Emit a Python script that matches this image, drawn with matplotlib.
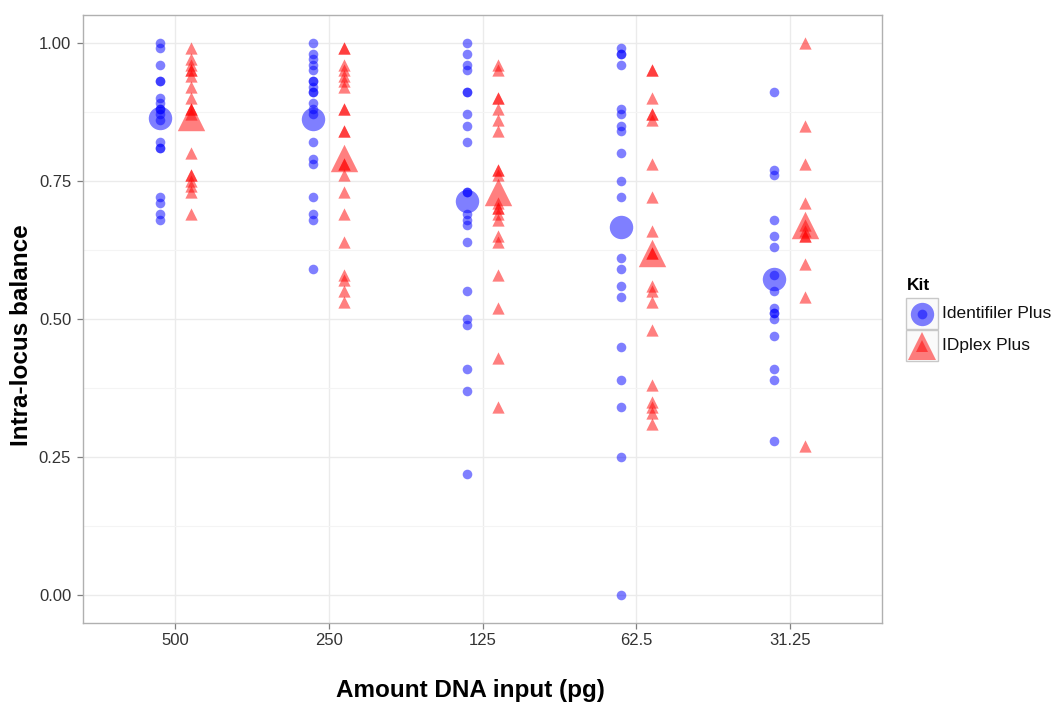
import matplotlib.pyplot as plt
from matplotlib.lines import Line2D
from matplotlib.patches import Rectangle
from matplotlib.ticker import MultipleLocator

plt.rcParams['font.family'] = ['Liberation Sans', 'DejaVu Sans']

# Amount of DNA input (pg), one group of points per category
categories = ['500', '250', '125', '62.5', '31.25']

# Identifiler Plus, intra-locus balance per locus
identifiler = [
    [1.00, 0.99, 0.96, 0.93, 0.93, 0.90, 0.89, 0.88, 0.88, 0.87, 0.86,
     0.82, 0.81, 0.81, 0.72, 0.71, 0.69, 0.68],
    [1.00, 0.98, 0.97, 0.96, 0.95, 0.93, 0.93, 0.92, 0.91, 0.91, 0.89,
     0.88, 0.87, 0.82, 0.79, 0.78, 0.72, 0.69, 0.68, 0.59],
    [1.00, 0.98, 0.96, 0.95, 0.91, 0.91, 0.87, 0.85, 0.82, 0.73, 0.73,
     0.69, 0.68, 0.67, 0.64, 0.55, 0.50, 0.49, 0.41, 0.37, 0.22],
    [0.99, 0.98, 0.98, 0.96, 0.88, 0.87, 0.85, 0.84, 0.80, 0.75, 0.72,
     0.61, 0.59, 0.56, 0.54, 0.45, 0.39, 0.34, 0.25, 0.00],
    [0.91, 0.77, 0.76, 0.68, 0.65, 0.63, 0.58, 0.55, 0.52, 0.51, 0.51,
     0.50, 0.47, 0.41, 0.39, 0.28],
]

# IDplex Plus, intra-locus balance per locus
idplex = [
    [0.99, 0.97, 0.96, 0.95, 0.95, 0.94, 0.92, 0.90, 0.88, 0.88, 0.87,
     0.80, 0.76, 0.76, 0.75, 0.74, 0.73, 0.69],
    [0.99, 0.99, 0.96, 0.95, 0.94, 0.93, 0.92, 0.88, 0.88, 0.84, 0.84,
     0.78, 0.78, 0.76, 0.73, 0.69, 0.64, 0.58, 0.57, 0.55, 0.53],
    [0.96, 0.95, 0.90, 0.90, 0.88, 0.86, 0.84, 0.77, 0.77, 0.76, 0.71,
     0.70, 0.70, 0.69, 0.68, 0.65, 0.64, 0.58, 0.52, 0.43, 0.34],
    [0.95, 0.95, 0.90, 0.87, 0.87, 0.86, 0.78, 0.72, 0.66, 0.62, 0.62,
     0.56, 0.55, 0.53, 0.48, 0.38, 0.35, 0.34, 0.33, 0.31],
    [1.00, 0.85, 0.78, 0.71, 0.67, 0.66, 0.65, 0.65, 0.60, 0.54, 0.27],
]

# group means (large markers)
identifiler_mean = [0.863, 0.861, 0.713, 0.667, 0.573]
idplex_mean = [0.866, 0.792, 0.730, 0.620, 0.670]

kits = ['Identifiler Plus', 'IDplex Plus']
colors = ['#0000ff', '#ff0000']
markers = ['o', '^']
offsets = [-0.1, 0.1]

fig = plt.figure(figsize=(10.56, 7.03), dpi=100)
ax = fig.add_axes([83 / 1056, 80 / 703, 799 / 1056, 608 / 703])

series = [(identifiler, identifiler_mean), (idplex, idplex_mean)]
small_size = [48, 78]
big_size = [285, 390]

for k, (vals, means) in enumerate(series):
    for i, group in enumerate(vals):
        ax.scatter([i + offsets[k]] * len(group), group, s=small_size[k],
                   marker=markers[k], color=colors[k], alpha=0.5,
                   linewidths=0, zorder=3)
    ax.scatter([i + offsets[k] for i in range(len(means))], means,
               s=big_size[k], marker=markers[k], color=colors[k],
               alpha=0.5, linewidths=0, zorder=4)

ax.set_xlim(-0.6, len(categories) - 0.4)
ax.set_ylim(-0.05, 1.05)
ax.set_xticks(range(len(categories)))
ax.set_xticklabels(categories)
ax.yaxis.set_major_locator(MultipleLocator(0.25))
ax.yaxis.set_minor_locator(MultipleLocator(0.125))
ax.set_yticks([0, 0.25, 0.5, 0.75, 1.0])
ax.set_yticklabels(['0.00', '0.25', '0.50', '0.75', '1.00'])

ax.grid(which='major', color='#ebebeb', linewidth=1.0, zorder=0)
ax.grid(which='minor', axis='y', color='#f4f4f4', linewidth=0.8, zorder=0)
ax.set_axisbelow(True)
ax.tick_params(which='major', length=4.5, width=0.9, color='#7f7f7f',
               labelsize=12, labelcolor='#333333', pad=4)
ax.tick_params(axis='x', which='major', pad=2.5)
ax.tick_params(which='minor', length=0)
for sp in ax.spines.values():
    sp.set_color('#b0b0b0')
    sp.set_linewidth(1.0)

fig.text(470 / 1056, 1 - 690 / 703, 'Amount DNA input (pg)', ha='center',
         va='center', fontsize=17.5, fontweight='bold')
fig.text(22 / 1056, 1 - 335 / 703, 'Intra-locus balance', ha='center',
         va='center', rotation=90, fontsize=17.5, fontweight='bold')

# legend drawn by hand in figure coordinates
def fx(px):
    return px / 1056

def fy(py):
    return 1 - py / 703

fig.text(fx(907), fy(285), 'Kit', ha='left', va='center', fontsize=12.5,
         fontweight='bold')
key_top = [298, 330]
for k, label in enumerate(kits):
    t, b = key_top[k], key_top[k] + 31
    fig.add_artist(Rectangle((fx(906), fy(b)), fx(32), (b - t) / 703,
                             transform=fig.transFigure, facecolor='#fafafa',
                             edgecolor='#c8c8c8', linewidth=1.0))
    cy = fy((t + b) / 2)
    fig.add_artist(Line2D([fx(922)], [cy], transform=fig.transFigure,
                          marker=markers[k], markersize=[16.8, 19.5][k],
                          color=colors[k], alpha=0.5, linestyle='none',
                          markeredgewidth=0))
    fig.add_artist(Line2D([fx(922)], [cy], transform=fig.transFigure,
                          marker=markers[k], markersize=[7, 9][k],
                          color=colors[k], alpha=0.5, linestyle='none',
                          markeredgewidth=0))
    fig.text(fx(942), cy, label, ha='left', va='center', fontsize=12.5,
             color='#111111')

fig.savefig('out.png', dpi=100)
